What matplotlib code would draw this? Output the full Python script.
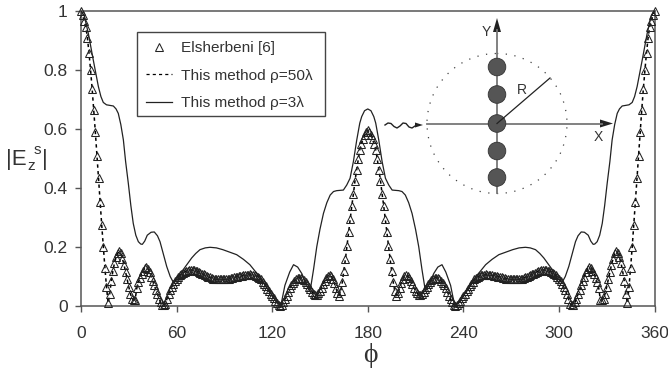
import matplotlib
matplotlib.use('Agg')
import matplotlib.pyplot as plt
import numpy as np
from matplotlib.lines import Line2D
from matplotlib.patches import Circle, Rectangle

plt.rcParams['font.family'] = ['Liberation Sans', 'DejaVu Sans']

# values, 0..180 deg, the curves are symmetric about 180
phi_half = list(range(0, 181))
elsherbeni_half = [
    1.0, .985, .965, .947, .91, .859, .80, .736, .665, .59,
    .51, .433, .354, .275, .2, .13, .065, .01, .04, .085,
    .118, .145, .165, .178, .185, .178, .16, .14, .115, .09,
    .065, .042, .025, .02, .022, .06, .08, .095, .11, .12,
    .13, .132, .127, .115, .1, .085, .07, .055, .04, .025,
    .012, .005, .002, .008, .025, .04, .055, .065, .075, .085,
    .09, .098, .104, .109, .113, .116, .118, .12, .121, .122,
    .122, .121, .12, .118, .116, .113, .11, .107, .104, .101,
    .099, .097, .095, .093, .092, .091, .09, .09, .09, .09,
    .09, .091, .092, .093, .094, .096, .097, .099, .1, .101,
    .102, .103, .104, .105, .106, .106, .107, .106, .105, .104,
    .102, .099, .095, .09, .083, .075, .067, .058, .05, .042,
    .034, .026, .018, .011, .005, .001, .004, .012, .023, .035,
    .048, .06, .07, .079, .086, .091, .094, .096, .095, .092,
    .087, .081, .073, .065, .056, .047, .04, .036, .037, .043,
    .052, .062, .073, .084, .094, .102, .106, .103, .092, .078,
    .062, .045, .035, .05, .08, .12, .16, .205, .25, .295,
    .34, .38, .425, .46, .497, .53, .55, .565, .58, .59,
    .595,
]
rho3_phi_half = [0, 2, 4.6, 7.7, 10.9, 12.5, 14, 16, 18, 20.3, 22, 23.4, 25, 26.6, 28, 29.7, 31.3, 32.8, 34.4,
                 36, 37.5, 38.5, 40, 41.6, 44, 46, 48, 49.6, 51.5, 53.8, 56, 58, 59, 60, 62, 64, 66.8, 69.5,
                 72, 74.7, 78, 81, 85, 89, 93, 97.7, 102, 106, 109, 112, 115, 118, 122, 125.4,
                 128, 131, 133.4, 136, 138.6, 141.7, 143.8, 146, 148, 150, 152.2, 154.3, 156.4, 158.5, 160.5,
                 162.5, 164.7, 166.8, 168.9, 171, 173.1, 175, 176.2, 178, 180]
rho3_half = [1.0, .985, .924, .834, .744, .71, .69, .682, .68, .678, .668, .653, .615, .563, .49, .416, .34, .28, .24,
             .218, .21, .209, .22, .24, .25, .251, .238, .218, .18, .134, .1, .08, .076, .077, .095, .122, .143, .163,
             .178, .191, .197, .199, .197, .191, .183, .174, .158, .14, .12, .1, .075, .05, .02, 0.0,
             .07, .115, .14, .132, .11, .07, .05, .125, .201, .26, .314, .35, .376, .388, .391,
             .392, .393, .41, .433, .49, .563, .62, .642, .662, .668]

phi = np.array(phi_half + [360 - p for p in phi_half[-2::-1]])
elsherbeni = np.array(elsherbeni_half + elsherbeni_half[-2::-1])
rho3_phi = np.array(rho3_phi_half + [360 - p for p in rho3_phi_half[-2::-1]])
rho3 = np.array(rho3_half + rho3_half[-2::-1])

x_ticks = [0, 60, 120, 180, 240, 300, 360]
y_ticks = [0, 0.2, 0.4, 0.6, 0.8, 1]
y_labels = ['0', '0.2', '0.4', '0.6', '0.8', '1']
legend_labels = ['Elsherbeni [6]', 'This method ρ=50λ', 'This method ρ=3λ']

W, H = 668, 371
text_col = '#333333'
axis_col = '#555555'

fig = plt.figure(figsize=(W / 100, H / 100), dpi=100)
ax = fig.add_axes([81 / W, 1 - 306 / H, (654.5 - 81) / W, (306 - 11) / H])

ax.plot(phi, elsherbeni, color='black', lw=1.1, ls=(0, (2.2, 2.2)), zorder=2)
ax.plot(rho3_phi, rho3, color='#222222', lw=0.9, zorder=3)
ax.plot(phi, elsherbeni, ls='none', marker='^', ms=5.2, mfc='none', mec='#222222', mew=0.75, zorder=4,
        clip_on=False)

ax.set_xlim(0, 360)
ax.set_ylim(0, 1)
ax.set_xticks(x_ticks)
ax.set_yticks(y_ticks)
ax.set_yticklabels(y_labels)
ax.tick_params(length=4, width=1, color=axis_col, labelsize=12.5, labelcolor=text_col)
ax.tick_params(axis='x', pad=10.5)
ax.tick_params(axis='y', pad=5.5)
for s in ax.spines.values():
    s.set_color(axis_col)
    s.set_linewidth(1.1)

# legend, the box is drawn by hand below because its right margin is wider
handles = [Line2D([], [], ls='none', marker='^', ms=5.5, mfc='none', mec='#222222', mew=0.75),
           Line2D([], [], color='black', lw=0.9, ls=(0, (2.5, 2.5))),
           Line2D([], [], color='#222222', lw=0.9)]
leg = ax.legend(handles, legend_labels, loc='upper left', fontsize=11.1, frameon=False,
                bbox_to_anchor=(137 / W, 1 - 32 / H), bbox_transform=fig.transFigure,
                borderaxespad=0, labelspacing=0.88, handlelength=1.65, handletextpad=0.6, borderpad=0.6,
                labelcolor=text_col)
leg.set_zorder(5)

# axis labels
fig.text(370 / W, 1 - 355 / H, 'ϕ', fontsize=20, ha='center', va='center', color=text_col,
         family=['Liberation Serif', 'DejaVu Sans'])
fig.text(6 / W, 1 - 160 / H, '|E', fontsize=16, ha='left', va='center', color=text_col)
fig.text(27 / W, 1 - 166 / H, 'z', fontsize=11, ha='left', va='center', color=text_col)
fig.text(34 / W, 1 - 150 / H, 's', fontsize=11, ha='left', va='center', color=text_col)
fig.text(42 / W, 1 - 160 / H, '|', fontsize=16, ha='left', va='center', color=text_col)

# inset sketch, in pixel coordinates
ov = fig.add_axes([0, 0, 1, 1], facecolor='none')
ov.set_xlim(0, W)
ov.set_ylim(H, 0)
ov.axis('off')
ov.add_patch(Rectangle((137, 32), 188, 83.5, fc='none', ec='#444444', lw=1.0))
gray = '#777777'
ov.add_patch(Circle((497, 123.5), 70, fc='none', ec='#444444', lw=0.9, ls=(0, (1, 6))))
ov.plot([427, 602], [123.5, 123.5], color=gray, lw=1.3)
ov.fill([613, 600, 600], [123.5, 119.5, 127.5], color='#222222', lw=0)
ov.plot([497, 497], [30, 193], color=gray, lw=1.3)
ov.fill([497, 493, 501], [18, 32, 32], color='#222222', lw=0)
for cy in [67, 94.5, 123.5, 151, 177.5]:
    ov.add_patch(Circle((497, cy), 8.8, fc='#555555', ec='#333333', lw=0.6, zorder=3))
ov.plot([497, 550], [123.5, 78], color='#222222', lw=0.9, zorder=4)
wave_x = [385, 388, 391, 394, 397, 400, 403, 406, 409, 412, 415, 418]
wave_y = [125, 123, 123.5, 126.5, 128, 126, 123, 123.5, 127, 128, 126, 125]
ov.plot(wave_x, wave_y, color='#222222', lw=1)
ov.fill([423, 415, 415], [125, 122.5, 127.5], color='#222222', lw=0)
ov.text(522, 90, 'R', fontsize=10, ha='center', va='center', color=text_col)
ov.text(486, 32, 'Y', fontsize=10, ha='center', va='center', color=text_col)
ov.text(598, 137, 'X', fontsize=10, ha='center', va='center', color=text_col)

fig.savefig('out.png', dpi=100)
